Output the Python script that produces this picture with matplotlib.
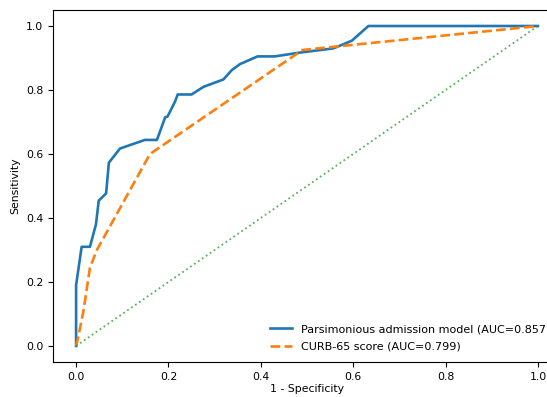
import matplotlib
matplotlib.use('Agg')
import matplotlib.pyplot as plt

# ROC curve points
model_fpr = [0.0, 0.0, 0.012, 0.03, 0.043, 0.049, 0.065, 0.071, 0.095, 0.149, 0.175,
             0.193, 0.198, 0.214, 0.22, 0.25, 0.276, 0.319, 0.337, 0.355, 0.393,
             0.43, 0.485, 0.557, 0.597, 0.633, 1.0]
model_tpr = [0.0, 0.19, 0.31, 0.31, 0.38, 0.454, 0.477, 0.573, 0.617, 0.644, 0.644,
             0.715, 0.717, 0.763, 0.786, 0.786, 0.81, 0.833, 0.862, 0.881, 0.905,
             0.905, 0.917, 0.93, 0.954, 1.0, 1.0]

curb_fpr = [0.0, 0.005, 0.016, 0.03, 0.045, 0.16, 0.49, 1.0]
curb_tpr = [0.0, 0.03, 0.11, 0.245, 0.30, 0.60, 0.925, 1.0]

chance = [0.0, 1.0]

model_label = 'Parsimonious admission model (AUC=0.857)'
curb_label = 'CURB-65 score (AUC=0.799)'

plt.rcParams['font.size'] = 7.8

fig = plt.figure(figsize=(5.47, 3.97), dpi=100)
ax = fig.add_axes([0.0969, 0.0882, 0.9287, 0.8866])

ax.plot(model_fpr, model_tpr, color='tab:blue', lw=1.9, label=model_label)
ax.plot(curb_fpr, curb_tpr, color='tab:orange', lw=1.9, ls='--', label=curb_label)
ax.plot(chance, chance, color='tab:green', lw=1.3, ls=':', alpha=0.8)

ax.set_xlim(-0.05, 1.05)
ax.set_ylim(-0.05, 1.05)
ax.set_xlabel('1 - Specificity', labelpad=2)
ax.set_ylabel('Sensitivity', labelpad=4)
ax.legend(loc='lower right', bbox_to_anchor=(0.998, 0.0), frameon=False,
          fontsize=8, labelspacing=0.7)

fig.savefig('out.png', dpi=100)
